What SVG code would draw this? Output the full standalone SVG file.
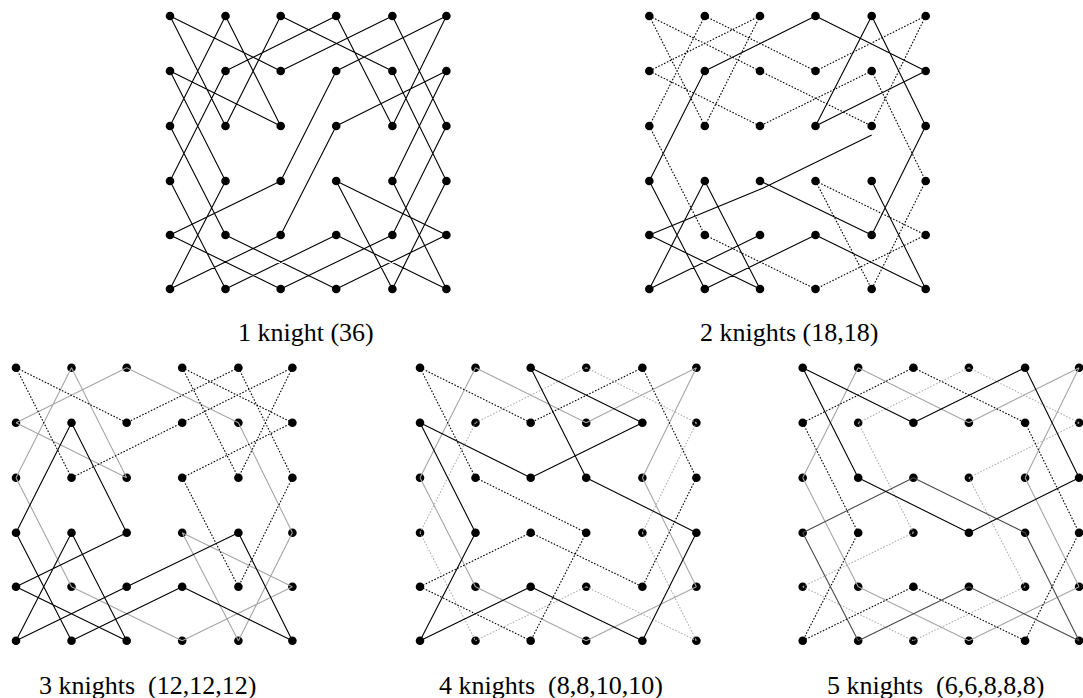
<svg xmlns="http://www.w3.org/2000/svg" xmlns:xlink="http://www.w3.org/1999/xlink" width="1083" height="698" viewBox="0 0 1083 698">
<style>
.k{fill:none;stroke-width:1.1;stroke-linecap:butt}
.blk{stroke:#000}
.dkg{stroke:#4a4a4a}
.gry{stroke:#a6a6a6}
.dot{stroke:#000;stroke-dasharray:1.6 1.6}
.ldot{stroke:#b0b0b0;stroke-dasharray:1.6 1.6}
.lbl{font-family:"Liberation Serif","Times New Roman",serif;fill:#000;font-size:26px}
</style>
<defs>
<g id="grid" fill="#000">
<circle cx="0" cy="0" r="4.3"/><circle cx="55.5" cy="0" r="4.3"/><circle cx="110.7" cy="0" r="4.3"/><circle cx="166.2" cy="0" r="4.3"/><circle cx="222.4" cy="0" r="4.3"/><circle cx="276.4" cy="0" r="4.3"/>
<circle cx="0" cy="55" r="4.3"/><circle cx="55.5" cy="55" r="4.3"/><circle cx="110.7" cy="55" r="4.3"/><circle cx="166.2" cy="55" r="4.3"/><circle cx="222.4" cy="55" r="4.3"/><circle cx="276.4" cy="55" r="4.3"/>
<circle cx="0" cy="110" r="4.3"/><circle cx="55.5" cy="110" r="4.3"/><circle cx="110.7" cy="110" r="4.3"/><circle cx="166.2" cy="110" r="4.3"/><circle cx="222.4" cy="110" r="4.3"/><circle cx="276.4" cy="110" r="4.3"/>
<circle cx="0" cy="165" r="4.3"/><circle cx="55.5" cy="165" r="4.3"/><circle cx="110.7" cy="165" r="4.3"/><circle cx="166.2" cy="165" r="4.3"/><circle cx="222.4" cy="165" r="4.3"/><circle cx="276.4" cy="165" r="4.3"/>
<circle cx="0" cy="219" r="4.3"/><circle cx="55.5" cy="219" r="4.3"/><circle cx="110.7" cy="219" r="4.3"/><circle cx="166.2" cy="219" r="4.3"/><circle cx="222.4" cy="219" r="4.3"/><circle cx="276.4" cy="219" r="4.3"/>
<circle cx="0" cy="273" r="4.3"/><circle cx="55.5" cy="273" r="4.3"/><circle cx="110.7" cy="273" r="4.3"/><circle cx="166.2" cy="273" r="4.3"/><circle cx="222.4" cy="273" r="4.3"/><circle cx="276.4" cy="273" r="4.3"/>
</g>
</defs>
<rect width="1083" height="698" fill="#fff"/>

<g id="panel1" transform="translate(170,16)">
<use xlink:href="#grid" href="#grid"/>
<g id="connectors1">
<path class="k blk" d="M0,0L110.7,55M0,0L55.5,110M55.5,0L0,110M55.5,0L110.7,110M110.7,0L55.5,110M110.7,0L222.4,55M166.2,0L55.5,55M166.2,0L222.4,110M222.4,0L110.7,55M222.4,0L276.4,110M276.4,0L166.2,55M276.4,0L222.4,110M0,55L110.7,110M0,55L55.5,165M55.5,55L0,165M166.2,55L110.7,165M222.4,55L276.4,165M276.4,55L166.2,110M276.4,55L222.4,165M0,110L55.5,219M166.2,110L110.7,219M276.4,110L222.4,219M0,165L55.5,273M55.5,165L0,273M110.7,165L0,219M166.2,165L276.4,219M166.2,165L222.4,273M222.4,165L276.4,273M276.4,165L222.4,273M0,219L110.7,273M55.5,219L166.2,273M110.7,219L0,273M166.2,219L55.5,273M166.2,219L276.4,273M222.4,219L110.7,273M276.4,219L166.2,273"/>
</g>
</g>

<g id="panel2" transform="translate(649.3,16)">
<use xlink:href="#grid" href="#grid"/>
<g id="connectors2">
<path class="k dot" d="M0,0L110.7,55M0,0L55.5,110M55.5,0L166.2,55M55.5,0L0,110M110.7,0L0,55M110.7,0L55.5,110M276.4,0L166.2,55M276.4,0L222.4,110M0,55L110.7,110M110.7,55L222.4,110M222.4,55L110.7,110M222.4,55L276.4,165M0,110L55.5,219M166.2,165L276.4,219M166.2,165L222.4,273M276.4,165L222.4,273M55.5,219L166.2,273M276.4,219L166.2,273"/>
<path class="k blk" d="M166.2,0L55.5,55M166.2,0L276.4,55M222.4,0L166.2,110M222.4,0L276.4,110M55.5,55L0,165M276.4,55L166.2,110M276.4,110L222.4,219M0,165L55.5,273M55.5,165L0,273M55.5,165L110.7,273M110.7,165L222.4,219M222.4,165L276.4,273M0,219L110.7,273M110.7,219L0,273M166.2,219L276.4,273M166.2,219L55.5,273M0,219L114,172L222.4,119"/>
</g>
</g>

<g id="panel3" transform="translate(16,367.7)">
<use xlink:href="#grid" href="#grid"/>
<g id="connectors3">
<path class="k gry" d="M55.5,0L0,110M55.5,0L110.7,110M110.7,0L0,55M110.7,0L222.4,55M0,55L110.7,110M222.4,55L276.4,165M0,110L55.5,219M166.2,165L276.4,219M166.2,165L222.4,273M276.4,165L222.4,273M55.5,219L166.2,273M276.4,219L166.2,273"/>
<path class="k dot" d="M0,0L110.7,55M0,0L55.5,110M166.2,0L276.4,55M166.2,0L222.4,110M222.4,0L110.7,55M222.4,0L276.4,110M276.4,0L166.2,55M276.4,0L222.4,110M166.2,55L55.5,110M276.4,55L166.2,110M166.2,110L222.4,219M276.4,110L222.4,219"/>
<path class="k blk" d="M55.5,55L0,165M55.5,55L110.7,165M0,165L55.5,273M55.5,165L0,273M55.5,165L110.7,273M110.7,165L0,219M222.4,165L110.7,219M222.4,165L276.4,273M0,219L110.7,273M110.7,219L0,273M166.2,219L55.5,273M166.2,219L276.4,273"/>
</g>
</g>

<g id="panel4" transform="translate(420,367.7)">
<use xlink:href="#grid" href="#grid"/>
<g id="connectors4">
<path class="k ldot" d="M166.2,0L55.5,55M166.2,0L276.4,55M55.5,55L0,165M276.4,55L222.4,165M0,165L55.5,273M222.4,165L276.4,273M166.2,219L55.5,273M166.2,219L276.4,273"/>
<path class="k gry" d="M55.5,0L0,110M55.5,0L166.2,55M276.4,0L166.2,55M276.4,0L222.4,110M0,110L55.5,219M222.4,110L276.4,219M55.5,219L166.2,273M276.4,219L166.2,273"/>
<path class="k dot" d="M0,0L110.7,55M0,0L55.5,110M222.4,0L110.7,55M222.4,0L276.4,110M55.5,110L166.2,165M276.4,110L222.4,219M110.7,165L0,219M110.7,165L222.4,219M166.2,165L110.7,273M0,219L110.7,273"/>
<path class="k blk" d="M110.7,0L222.4,55M110.7,0L166.2,110M0,55L110.7,110M0,55L55.5,165M222.4,55L110.7,110M166.2,110L276.4,165M55.5,165L0,273M276.4,165L222.4,273M110.7,219L0,273M110.7,219L222.4,273"/>
</g>
</g>

<g id="panel5" transform="translate(802.7,367.7)">
<use xlink:href="#grid" href="#grid"/>
<g id="connectors5">
<path class="k ldot" d="M166.2,0L55.5,55M166.2,0L276.4,55M55.5,55L110.7,165M276.4,55L166.2,110M166.2,110L222.4,219M110.7,165L0,219M0,219L110.7,273M222.4,219L110.7,273"/>
<path class="k gry" d="M55.5,0L0,110M55.5,0L166.2,55M276.4,0L166.2,55M276.4,0L222.4,110M0,110L55.5,219M222.4,110L276.4,219M55.5,219L166.2,273M276.4,219L166.2,273"/>
<path class="k dot" d="M110.7,0L0,55M110.7,0L222.4,55M0,55L55.5,165M222.4,55L276.4,165M55.5,165L0,273M276.4,165L222.4,273M110.7,219L0,273M110.7,219L222.4,273"/>
<path class="k dkg" d="M110.7,110L0,165M110.7,110L222.4,165M0,165L55.5,273M222.4,165L276.4,273M166.2,219L55.5,273M166.2,219L276.4,273"/>
<path class="k blk" d="M0,0L110.7,55M0,0L55.5,110M222.4,0L110.7,55M222.4,0L276.4,110M55.5,110L166.2,165M276.4,110L166.2,165"/>
</g>
</g>

<g id="labels" class="lbl">
<text x="238" y="340.5">1 knight (36)</text>
<text x="700" y="340.5">2 knights (18,18)</text>
<text x="39" y="693.5" xml:space="preserve">3 knights  (12,12,12)</text>
<text x="439" y="693.5" xml:space="preserve">4 knights  (8,8,10,10)</text>
<text x="827" y="693.5" xml:space="preserve">5 knights  (6,6,8,8,8)</text>
</g>
</svg>
